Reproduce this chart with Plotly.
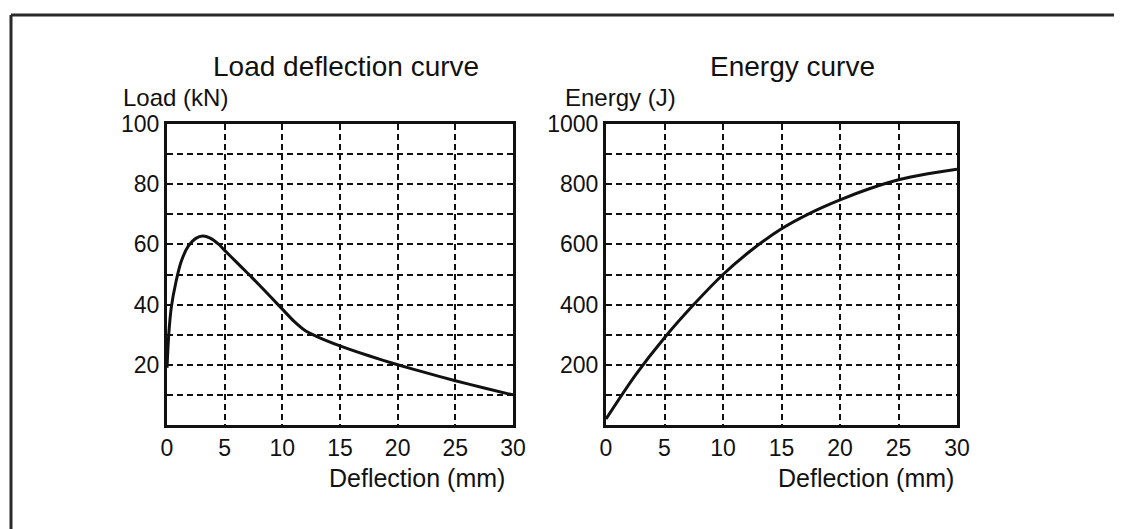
import plotly.graph_objects as go

# ---------------- data ----------------
load_x = [0, 0.15, 0.37, 0.78, 1.24, 1.86, 2.5, 3.1, 3.7, 4.5, 5, 6, 7, 8, 9, 10, 11, 12, 13, 15, 17.5, 20, 22.5, 25, 27.5, 30]
load_y = [19, 30, 39, 47.6, 54.4, 59.5, 62, 62.8, 62.2, 60, 58, 54.2, 50.4, 46.5, 42.5, 38.5, 34.5, 31.3, 29.4, 26.3, 23, 20, 17.3, 14.7, 12.3, 10]

energy_x = [0, 2.5, 5, 7.5, 10, 12.5, 15, 17.5, 20, 22.5, 25, 27.5, 30]
energy_y = [20, 165, 290, 400, 500, 583, 652, 705, 748, 785, 815, 835, 850]

x_ticks = [0, 5, 10, 15, 20, 25, 30]
x_ticktext = ["0", "5", "10", "15", "20", "25", "30"]
load_ticks = [0, 10, 20, 30, 40, 50, 60, 70, 80, 90, 100]
load_ticktext = ["", "", "20", "", "40", "", "60", "", "80", "", "100"]
energy_ticks = [0, 100, 200, 300, 400, 500, 600, 700, 800, 900, 1000]
energy_ticktext = ["", "", "200", "", "400", "", "600", "", "800", "", "1000"]

titles = ["Load deflection curve", "Energy curve"]
y_titles = ["Load (kN)", "Energy (J)"]
x_title = "Deflection (mm)"

# ---------------- layout helpers ----------------
W, H = 1122, 529
OX, OY = 8, 8  # page body margin compensation
INK = "#111111"
FONT = "Liberation Sans, Arial, Helvetica, sans-serif"


def fx(p):
    return (p - OX) / W


def fy(p):
    return 1 - (p - OY) / H


fig = go.Figure()
fig.add_trace(go.Scatter(x=load_x, y=load_y, mode="lines",
                         line=dict(color=INK, width=3, shape="spline", smoothing=0.6),
                         xaxis="x", yaxis="y", showlegend=False, hoverinfo="skip"))
fig.add_trace(go.Scatter(x=energy_x, y=energy_y, mode="lines",
                         line=dict(color=INK, width=3, shape="spline", smoothing=0.8),
                         xaxis="x2", yaxis="y2", showlegend=False, hoverinfo="skip"))

grid = dict(showgrid=True, gridcolor=INK, griddash="6px,4px", gridwidth=1.8,
            showline=True, mirror=True, linecolor=INK, linewidth=3,
            zeroline=False, ticks="", ticklen=0, automargin=False,
            tickfont=dict(family=FONT, size=23, color=INK),
            fixedrange=True, ticklabelstandoff=0)

top, bottom = 124, 425
fig.update_layout(
    width=W, height=H,
    margin=dict(l=0, r=0, t=0, b=0),
    paper_bgcolor="white", plot_bgcolor="white",
    font=dict(family=FONT, color=INK),
    xaxis=dict(domain=[fx(167), fx(513)], range=[0, 30], tickvals=x_ticks, ticktext=x_ticktext,
               anchor="y", **grid),
    yaxis=dict(domain=[fy(bottom), fy(top)], range=[0, 100], tickvals=load_ticks,
               ticktext=load_ticktext, anchor="x", **grid),
    xaxis2=dict(domain=[fx(606), fx(957)], range=[0, 30], tickvals=x_ticks, ticktext=x_ticktext,
                anchor="y2", **grid),
    yaxis2=dict(domain=[fy(bottom), fy(top)], range=[0, 1000], tickvals=energy_ticks,
                ticktext=energy_ticktext, anchor="x2", **grid),
)

ann = []
ann.append(dict(text=titles[0], x=fx(346), y=fy(67), xanchor="center", yanchor="middle",
                font=dict(size=28)))
ann.append(dict(text=titles[1], x=fx(793), y=fy(67), xanchor="center", yanchor="middle",
                font=dict(size=28)))
ann.append(dict(text=y_titles[0], x=fx(121), y=fy(98), xanchor="left", yanchor="middle",
                font=dict(size=24)))
ann.append(dict(text=y_titles[1], x=fx(563), y=fy(98), xanchor="left", yanchor="middle",
                font=dict(size=24)))
ann.append(dict(text=x_title, x=fx(507), y=fy(478), xanchor="right", yanchor="middle",
                font=dict(size=25)))
ann.append(dict(text=x_title, x=fx(956), y=fy(478), xanchor="right", yanchor="middle",
                font=dict(size=25)))
for a in ann:
    a.update(xref="paper", yref="paper", showarrow=False)
    a["font"].update(family=FONT, color=INK)
fig.update_layout(annotations=ann)

# outer frame (only top and left edges visible)
fig.update_layout(shapes=[
    dict(type="line", xref="paper", yref="paper", x0=fx(11), x1=1, y0=fy(15), y1=fy(15),
         line=dict(color="#2a2a2a", width=3)),
    dict(type="line", xref="paper", yref="paper", x0=fx(11), x1=fx(11), y0=fy(15), y1=0,
         line=dict(color="#2a2a2a", width=3)),
])

fig.write_html("out.html")
